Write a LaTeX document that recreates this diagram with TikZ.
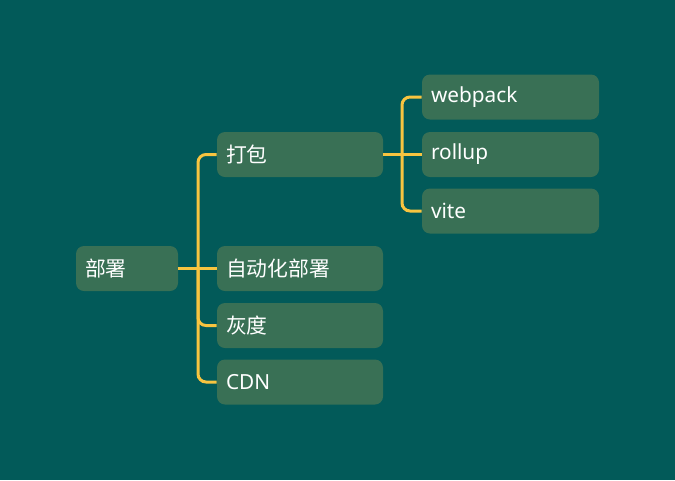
\documentclass[tikz,border=0pt]{standalone}
\usepackage{fontspec}
\setmainfont{Noto Sans}
\newfontfamily\cjk{Noto Sans CJK SC}
\definecolor{bgc}{RGB}{2,90,89}
\definecolor{boxc}{RGB}{57,112,85}
\definecolor{linec}{RGB}{248,196,64}
\begin{document}
\begin{tikzpicture}[x=0.75pt,y=-0.75pt,
  every node/.style={font=\fontsize{15.6pt}{18pt}\selectfont, text=white},
  box/.style={fill=boxc, rounded corners=6pt, inner xsep=6.75pt, inner ysep=0pt, align=left, minimum height=33.75pt},
  rootbox/.style={box, text width=63pt, minimum width=76.5pt},
  lonebox/.style={box, text width=111pt, minimum width=124.5pt},
  ltwobox/.style={box, text width=119.25pt, minimum width=132.75pt},
  conn/.style={draw=linec, line width=2.25pt, rounded corners=6pt}]
\fill[bgc] (0,0) rectangle (675,480);
\useasboundingbox (0,0) rectangle (675,480);
\node[rootbox] (root) at (127,268.5) {\cjk 部署};
\node[lonebox] (a) at (300,154.5) {\cjk 打包};
\node[lonebox] (b) at (300,268.5) {\cjk 自动化部署};
\node[lonebox] (c) at (300,325.5) {\cjk 灰度};
\node[lonebox] (d) at (300,382) {CDN};
\node[ltwobox] (w) at (510.5,97) {webpack};
\node[ltwobox] (r) at (510.5,154.5) {rollup};
\node[ltwobox] (v) at (510.5,211) {vite};
\coordinate (j1) at (198,268.5);
\coordinate (j2) at (402,154.5);
\draw[conn] (root.east) -- (b.west);
\draw[conn] (a.west) -| (j1) |- (d.west);
\draw[conn] (j1) |- (c.west);
\draw[conn] (a.east) -- (r.west);
\draw[conn] (w.west) -| (j2) |- (v.west);
\end{tikzpicture}
\end{document}
